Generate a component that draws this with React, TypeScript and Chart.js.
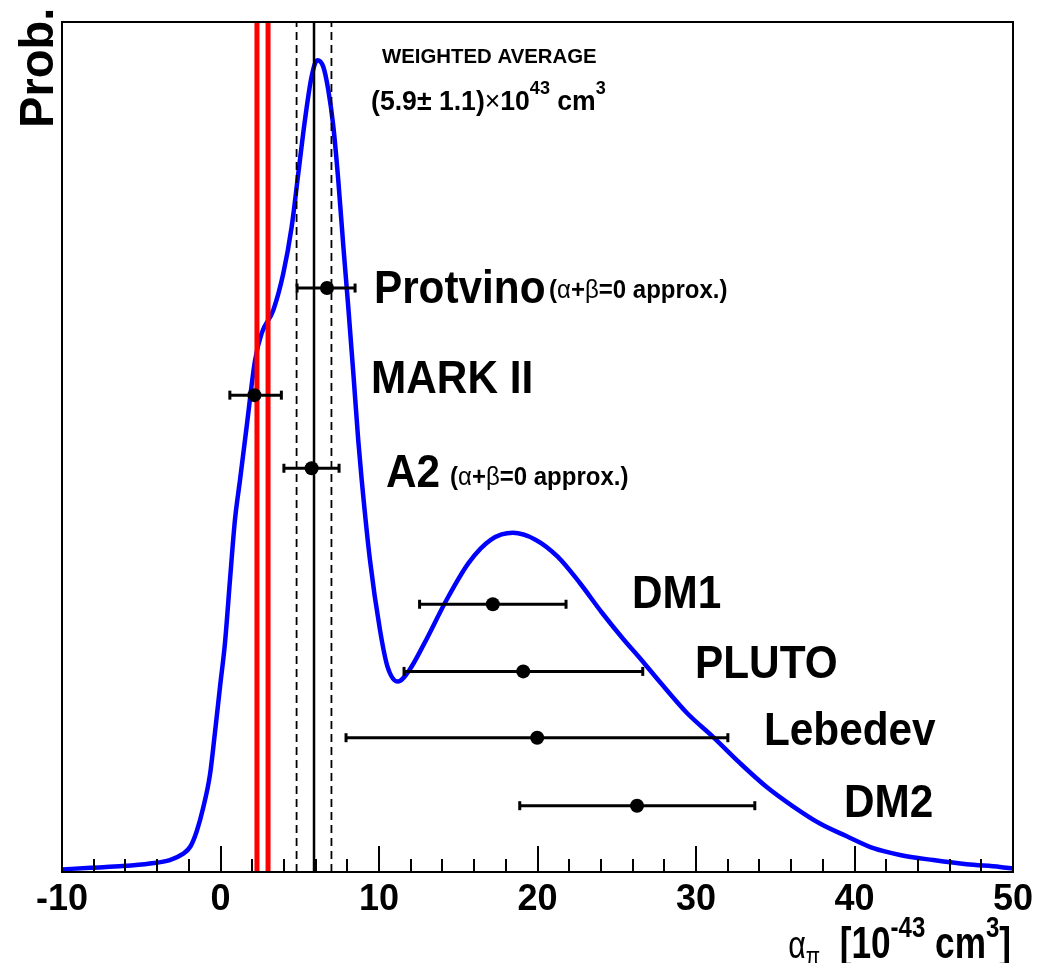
import React, { useEffect, useRef } from 'react';
import { Chart, registerables } from 'chart.js';

Chart.register(...registerables);

// ---- data ----
const CURVE_X = [
  -10.0, -8.2, -6.15, -4.45, -3.2, -2.4, -1.9, -1.5, -1.1, -0.66, -0.35, -0.03, 0.28, 0.6, 0.91, 1.23,
  1.65, 2.18, 2.6, 3.33, 3.96, 4.49, 4.91, 5.33, 5.75, 6.11, 6.49, 6.8, 7.12, 7.43, 7.75, 8.06, 8.38,
  8.69, 8.91, 9.43, 10.06, 10.53, 11.19, 11.93, 12.86, 14.26, 15.67, 17.07, 18.45, 19.87, 21.27, 22.67,
  24.07, 25.46, 26.4, 27.79, 29.43, 31.07, 32.78, 34.46, 36.14, 37.82, 39.51, 41.19, 42.87, 44.97,
  47.08, 49.18, 50.0,
];
const CURVE_Y = [
  0.003, 0.005, 0.007, 0.01, 0.014, 0.021, 0.03, 0.048, 0.075, 0.115, 0.164, 0.218, 0.269, 0.344, 0.414,
  0.461, 0.524, 0.602, 0.634, 0.661, 0.704, 0.759, 0.822, 0.885, 0.936, 0.955, 0.947, 0.92, 0.877, 0.814,
  0.736, 0.665, 0.587, 0.508, 0.461, 0.367, 0.285, 0.242, 0.224, 0.238, 0.269, 0.32, 0.364, 0.391, 0.399,
  0.391, 0.371, 0.34, 0.305, 0.273, 0.253, 0.222, 0.187, 0.159, 0.128, 0.1, 0.077, 0.057, 0.042, 0.028,
  0.02, 0.014, 0.009, 0.006, 0.004,
];

const EXP_NAMES = ['Protvino', 'MARK II', 'A2', 'DM1', 'PLUTO', 'Lebedev', 'DM2'];
const EXP_VALUE = [6.72, 2.14, 5.75, 17.18, 19.1, 19.98, 26.28];
const EXP_LOW = [4.83, 0.59, 4.0, 12.56, 11.58, 7.92, 18.88];
const EXP_HIGH = [8.49, 3.84, 7.48, 21.8, 26.64, 32.01, 33.71];
const EXP_ROW = [0.687, 0.561, 0.475, 0.315, 0.236, 0.158, 0.078];

const RED_LINES = [2.3, 3.0];
const AVG_VALUE = 5.9;
const AVG_ERROR = 1.1;

const X_MIN = -10;
const X_MAX = 50;
const X_STEP = 2;
const X_MAJOR = 10;

const FAM = '"Liberation Sans", Arial, Helvetica, sans-serif';

type Seg = { t: string; size: number; bold?: boolean; rise?: number };

function drawRich(
  ctx: CanvasRenderingContext2D,
  x: number,
  y: number,
  segs: Seg[],
  sx: number,
  align: 'left' | 'right' = 'left'
) {
  ctx.save();
  ctx.translate(x, y);
  ctx.scale(sx, 1);
  ctx.fillStyle = '#000';
  ctx.textAlign = 'left';
  ctx.textBaseline = 'alphabetic';
  const fontOf = (s: Seg) => `${s.bold === false ? '' : 'bold '}${s.size}px ${FAM}`;
  let total = 0;
  for (const s of segs) {
    ctx.font = fontOf(s);
    total += ctx.measureText(s.t).width;
  }
  let cx = align === 'right' ? -total : 0;
  for (const s of segs) {
    ctx.font = fontOf(s);
    ctx.fillText(s.t, cx, -(s.rise || 0));
    cx += ctx.measureText(s.t).width;
  }
  ctx.restore();
}

const rootPlugin = {
  id: 'rootStyle',
  afterDatasetsDraw(chart: any) {
    const ctx: CanvasRenderingContext2D = chart.ctx;
    const xs = chart.scales.x;
    const ys = chart.scales.y;
    const a = chart.chartArea;
    ctx.save();
    // ticks inside the frame
    ctx.strokeStyle = '#000';
    ctx.lineWidth = 2;
    for (const t of xs.ticks) {
      const px = Math.round(xs.getPixelForValue(t.value));
      const len = t.value % X_MAJOR === 0 ? 26 : 13;
      ctx.beginPath();
      ctx.moveTo(px, a.bottom);
      ctx.lineTo(px, a.bottom - len);
      ctx.stroke();
    }
    // frame
    ctx.lineWidth = 2;
    ctx.strokeRect(a.left, a.top, a.right - a.left, a.bottom - a.top);

    const P = (xv: number, yv: number) => [xs.getPixelForValue(xv), ys.getPixelForValue(yv)];

    // weighted average text
    let [px, py] = P(10.19, 0.952);
    drawRich(ctx, px, py, [{ t: 'WEIGHTED AVERAGE', size: 21 }], 0.97);
    [px, py] = P(9.5, 0.896);
    drawRich(
      ctx,
      px,
      py,
      [
        { t: '(' + AVG_VALUE.toFixed(1), size: 28 },
        { t: '±', size: 28 },
        { t: ' ' + AVG_ERROR.toFixed(1) + ')', size: 28 },
        { t: '×', size: 28, bold: false },
        { t: '10', size: 28 },
        { t: '43', size: 19, rise: 16 },
        { t: ' cm', size: 28 },
        { t: '3', size: 19, rise: 16 },
      ],
      0.95
    );

    // experiment labels
    const labelPos: [number, number][] = [
      [9.68, 0.669],
      [9.5, 0.564],
      [10.44, 0.453],
      [25.96, 0.311],
      [29.94, 0.228],
      [34.29, 0.149],
      [39.34, 0.065],
    ];
    EXP_NAMES.forEach((n, i) => {
      const [lx, ly] = P(labelPos[i][0], labelPos[i][1]);
      drawRich(ctx, lx, ly, [{ t: n, size: 47 }], 0.9);
    });
    const approx: Seg[] = [
      { t: '(', size: 25 },
      { t: 'α', size: 25, bold: false },
      { t: '+', size: 25 },
      { t: 'β', size: 25, bold: false },
      { t: '=0 approx.)', size: 25 },
    ];
    [px, py] = P(20.73, 0.675);
    drawRich(ctx, px, py, approx, 0.96);
    [px, py] = P(14.48, 0.455);
    drawRich(ctx, px, py, approx, 0.96);

    // y axis title
    ctx.save();
    ctx.translate(a.left - 9, a.top + 106);
    ctx.rotate(-Math.PI / 2);
    drawRich(ctx, 0, 0, [{ t: 'Prob.', size: 48 }], 0.98);
    ctx.restore();

    // x axis title
    drawRich(
      ctx,
      a.right - 2,
      958,
      [
        { t: 'α', size: 38, bold: false },
        { t: 'π', size: 26, bold: false, rise: -7 },
        { t: '  ', size: 44 },
        { t: '[10', size: 44 },
        { t: '-43', size: 30, rise: 21 },
        { t: ' cm', size: 44 },
        { t: '3', size: 30, rise: 21 },
        { t: ']', size: 44 },
      ],
      0.8,
      'right'
    );
    ctx.restore();
  },
};

export default function App() {
  const ref = useRef<HTMLCanvasElement>(null);
  useEffect(() => {
    if (!ref.current) return;
    const curve = CURVE_X.map((x, i) => ({ x, y: CURVE_Y[i] }));
    const vline = (x: number) => [
      { x, y: 0 },
      { x, y: 1 },
    ];
    const datasets: any[] = [
      {
        data: curve,
        borderColor: '#0000ff',
        borderWidth: 4.5,
        pointRadius: 0,
        cubicInterpolationMode: 'monotone',
        fill: false,
        order: 10,
      },
      ...RED_LINES.map((x) => ({
        data: vline(x),
        borderColor: '#ff0000',
        borderWidth: 5,
        pointRadius: 0,
        order: 5,
      })),
      {
        data: vline(AVG_VALUE),
        borderColor: '#000',
        borderWidth: 2.5,
        pointRadius: 0,
        order: 5,
      },
      ...[AVG_VALUE - AVG_ERROR, AVG_VALUE + AVG_ERROR].map((x) => ({
        data: vline(x),
        borderColor: '#000',
        borderWidth: 1.8,
        borderDash: [8, 5],
        pointRadius: 0,
        order: 5,
      })),
      ...EXP_NAMES.map((_, i) => ({
        data: [
          { x: EXP_LOW[i], y: EXP_ROW[i] },
          { x: EXP_HIGH[i], y: EXP_ROW[i] },
        ],
        borderColor: '#000',
        borderWidth: 3,
        pointStyle: 'line',
        pointRotation: 90,
        pointRadius: 4.5,
        pointBorderWidth: 3,
        pointBorderColor: '#000',
        order: 2,
      })),
      {
        data: EXP_NAMES.map((_, i) => ({ x: EXP_VALUE[i], y: EXP_ROW[i] })),
        showLine: false,
        pointRadius: 7,
        pointBackgroundColor: '#000',
        pointBorderWidth: 0,
        borderColor: '#000',
        order: 1,
      },
    ];
    const chart = new Chart(ref.current, {
      type: 'line',
      data: { datasets },
      options: {
        animation: false,
        responsive: false,
        maintainAspectRatio: false,
        events: [],
        layout: { padding: { left: 62, right: 34, top: 22, bottom: 0 } },
        plugins: { legend: { display: false }, tooltip: { enabled: false } },
        scales: {
          x: {
            type: 'linear',
            min: X_MIN,
            max: X_MAX,
            position: 'bottom',
            grid: { display: false },
            border: { display: false },
            ticks: {
              stepSize: X_STEP,
              autoSkip: false,
              maxRotation: 0,
              padding: -2,
              color: '#000',
              font: { family: FAM, size: 36, weight: 'bold' },
              callback: (v: any) => (Number(v) % X_MAJOR === 0 ? String(v) : ''),
            },
            afterFit: (s: any) => {
              s.height = 91;
            },
          },
          y: { type: 'linear', min: 0, max: 1, display: false },
        },
      },
      plugins: [rootPlugin],
    } as any);
    return () => chart.destroy();
  }, []);
  return (
    <div style={{ position: 'absolute', left: 0, top: 0, width: 1047, height: 963, background: '#fff' }}>
      <canvas ref={ref} width={1047} height={963} style={{ display: 'block' }} />
    </div>
  );
}
